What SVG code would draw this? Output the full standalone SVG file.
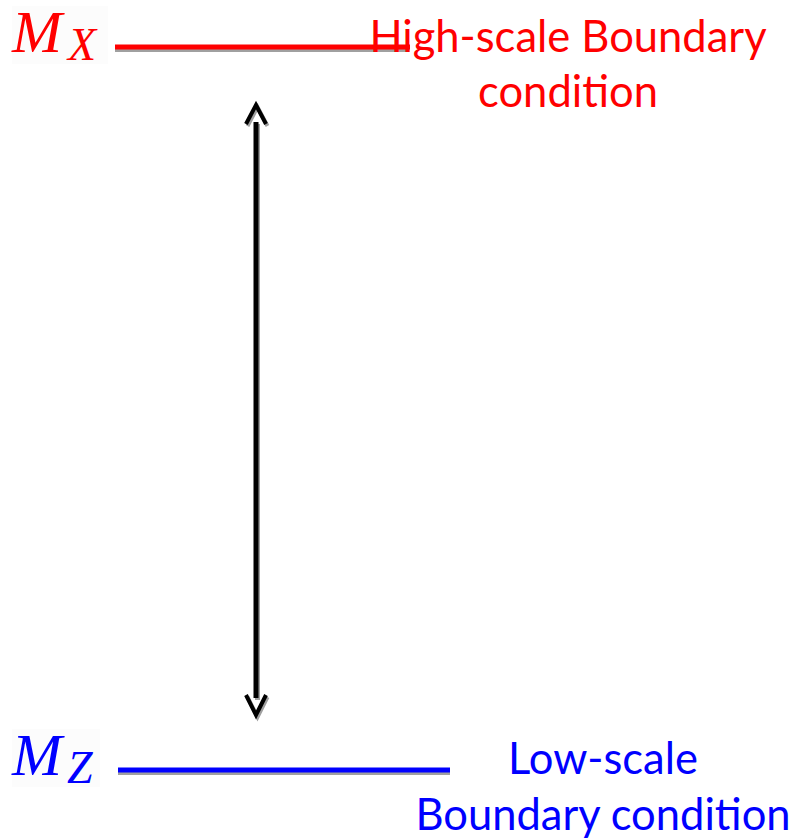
<svg xmlns="http://www.w3.org/2000/svg" width="798" height="840" viewBox="0 0 798 840">
  <defs>
    <style>
      .lbl { font-family: Lato, "Liberation Sans", sans-serif; font-size: 43.5px; text-anchor: middle; }
      .math { font-family: "Liberation Serif", "DejaVu Serif", serif; font-style: italic; }
      .shadow { stroke: #a0a0a0; fill: none; }
      .arrow { stroke: #000; fill: none; }
    </style>
  </defs>
  <rect width="798" height="840" fill="#fff"/>

  <g id="mx">
    <rect x="12" y="6" width="96" height="58" fill="#fcfcfc"/>
    <text class="math" x="12" y="52" font-size="60" fill="#f00">M</text>
    <text class="math" x="68" y="60" font-size="46" fill="#f00">X</text>
  </g>

  <g id="high-line">
    <line class="shadow" x1="115" y1="50" x2="410" y2="50" stroke-width="4"/>
    <line x1="115" y1="47" x2="410" y2="47" stroke="#f00" stroke-width="5"/>
  </g>

  <g id="high-label">
    <text class="lbl" x="568" y="52" fill="#f00">High-scale Boundary</text>
    <text class="lbl" x="568" y="107" fill="#f00">condition</text>
  </g>

  <g id="mz">
    <rect x="12" y="729" width="88" height="58" fill="#fcfcfc"/>
    <text class="math" x="12" y="775" font-size="60" fill="#00f">M</text>
    <text class="math" x="67" y="783" font-size="46" fill="#00f">Z</text>
  </g>

  <g id="low-line">
    <line class="shadow" x1="118" y1="773" x2="450" y2="773" stroke-width="4"/>
    <line x1="118" y1="770" x2="450" y2="770" stroke="#00f" stroke-width="5"/>
  </g>

  <g id="low-label">
    <text class="lbl" x="603" y="774" fill="#00f">Low-scale</text>
    <text class="lbl" x="603" y="830" fill="#00f">Boundary condition</text>
  </g>

  <g id="connectors">
    <g transform="translate(1.5,2)">
      <line class="shadow" x1="256" y1="122" x2="256" y2="698" stroke-width="5"/>
      <polyline class="shadow" points="246,124 256,105 266,124" stroke-width="4"/>
      <polyline class="shadow" points="246,695 256,715 266,695" stroke-width="4"/>
    </g>
    <line class="arrow" x1="256" y1="122" x2="256" y2="698" stroke-width="5"/>
    <polyline class="arrow" points="246,124 256,105 266,124" stroke-width="4"/>
    <polyline class="arrow" points="246,695 256,715 266,695" stroke-width="4"/>
  </g>
</svg>
